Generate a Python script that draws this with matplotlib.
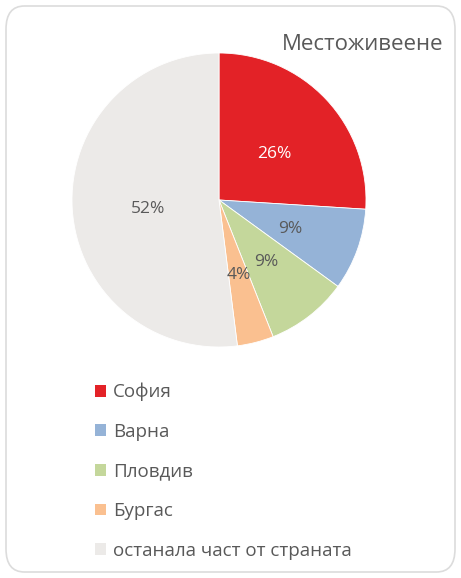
import matplotlib.pyplot as plt
import matplotlib.transforms as mtransforms
from matplotlib.patches import FancyBboxPatch

# data
cities = ['София', 'Варна', 'Пловдив', 'Бургас', 'останала част от страната']
shares = [26, 9, 9, 4, 52]
colors = ['#E32227', '#95B3D7', '#C4D79B', '#FAC090', '#ECEAE8']
title = 'Местоживеене'

plt.rcParams['font.family'] = ['Open Sans', 'DejaVu Sans']
txt_color = '#595959'

fig = plt.figure(figsize=(4.61, 5.78), dpi=100)

# rounded frame around the chart
frame = FancyBboxPatch((6 / 461, 6 / 578), 449 / 461, 566 / 578,
                       boxstyle='round,pad=0,rounding_size=0.04',
                       transform=fig.transFigure, facecolor='white',
                       edgecolor='#DCDCDC', linewidth=1.2, zorder=-5)
fig.patches.append(frame)

cx, cy, r = 219, 200, 147
ax = fig.add_axes([(cx - r) / 461, 1 - (cy + r) / 578, 2 * r / 461, 2 * r / 578])
ax.patch.set_visible(False)
wedges, texts, autotexts = ax.pie(shares, colors=colors, startangle=90, counterclock=False,
                                  autopct='%1.0f%%', pctdistance=0.5,
                                  wedgeprops={'linewidth': 0.6, 'edgecolor': 'white'},
                                  textprops={'color': txt_color, 'fontsize': 12.5})
autotexts[0].set_color('white')
# nudge labels a bit down/right like the original
shift = mtransforms.offset_copy(ax.transData, fig=fig, x=2, y=-4, units='dots')
for t in autotexts:
    t.set_transform(shift)
ax.set_xlim(-1, 1)
ax.set_ylim(-1, 1)
ax.set_aspect('equal')

fig.text(443 / 461, 1 - 44 / 578, title, ha='right', va='center', fontsize=16, color=txt_color)

leg = fig.legend(wedges, cities, loc='upper left', bbox_to_anchor=(78 / 461, 1 - 366 / 578),
                 frameon=False, handlelength=0.6, handleheight=0.6, handletextpad=0.35,
                 labelspacing=1.15, fontsize=13.5, labelcolor=txt_color)
for h in leg.legend_handles:
    h.set_edgecolor('none')

fig.savefig('out.png', dpi=100)
